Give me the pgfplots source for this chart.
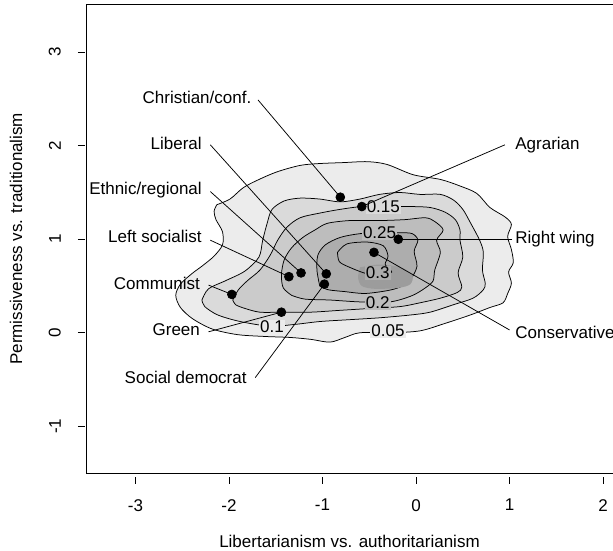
\documentclass[border=0pt]{standalone}
\usepackage{fontspec}
\setmainfont{Liberation Sans}
\usepackage{pgfplots}
\pgfplotsset{compat=1.18}
\definecolor{g1}{gray}{0.925}
\definecolor{g2}{gray}{0.855}
\definecolor{g3}{gray}{0.795}
\definecolor{g4}{gray}{0.74}
\definecolor{g5}{gray}{0.68}
\definecolor{g6}{gray}{0.61}
\begin{document}
\fontsize{17}{20.4}\selectfont
\begin{tikzpicture}
\begin{axis}[name=ax, scale only axis, width=540.4pt, height=468.4pt,
  xmin=-3.53, xmax=2.25, ymin=-1.50, ymax=3.51, clip=false,
  axis line style={line width=0.75pt},
  xtick={-3,-2,-1,0,1,2}, xticklabels={-3,-2,-1,0,1,2},
  ytick={-1,0,1,2,3}, yticklabels={-1,0,1,2,3},
  xtick pos=bottom, ytick pos=left, tick align=outside, major tick length=7pt,
  xtick style={line width=0.75pt, black, yshift=-4pt},
  ytick style={line width=0.75pt, black, xshift=-1pt},
  xticklabel style={anchor=north, inner sep=0pt}, xticklabel shift=19pt,
  yticklabel style={rotate=90, anchor=south, inner sep=0pt}, yticklabel shift=18pt,
  xlabel={Libertarianism vs. authoritarianism},
  xlabel style={at={(axis description cs:0.4876,-0.1452)}, anchor=center},
  ylabel={Permissiveness vs. traditionalism},
  ylabel style={at={(axis description cs:-0.1295,0.5)}, anchor=center},
  every axis plot/.append style={line width=0.75pt},
]
% contour 0.05
\addplot[draw=black, fill=g1, smooth, tension=0.5] coordinates {
(-2.13,1.37)(-1.99,1.43)(-1.85,1.55)(-1.70,1.63)(-1.49,1.72)(-1.24,1.79)(-1.03,1.81)(-0.78,1.82)(-0.52,1.83)(-0.31,1.80)(-0.03,1.69)(0.26,1.64)(0.47,1.57)(0.65,1.49)(0.79,1.34)(0.95,1.24)(1.02,1.16)(0.98,1.03)(1.02,0.89)(1.04,0.75)(0.99,0.65)(1.02,0.53)(0.98,0.42)(0.93,0.32)(0.79,0.27)(0.58,0.19)(0.31,0.10)(0.04,0.02)(-0.28,0.00)(-0.60,0.00)(-0.76,-0.05)(-0.92,-0.10)(-1.13,-0.07)(-1.35,-0.05)(-1.61,-0.04)(-1.91,-0.02)(-2.18,0.04)(-2.39,0.15)(-2.52,0.27)(-2.57,0.40)(-2.52,0.52)(-2.40,0.63)(-2.28,0.72)(-2.16,0.82)(-2.07,0.94)(-2.07,1.08)(-2.14,1.21)(-2.16,1.30)(-2.13,1.37)} -- cycle;
% contour 0.1
\addplot[draw=black, fill=g2, smooth, tension=0.5] coordinates {
(-2.29,0.35)(-2.22,0.47)(-2.03,0.56)(-1.83,0.66)(-1.68,0.81)(-1.64,0.99)(-1.59,1.18)(-1.54,1.32)(-1.41,1.41)(-1.24,1.44)(-1.03,1.43)(-0.81,1.40)(-0.60,1.43)(-0.39,1.48)(-0.17,1.50)(0.04,1.48)(0.26,1.48)(0.40,1.42)(0.50,1.32)(0.58,1.18)(0.68,0.99)(0.72,0.86)(0.71,0.67)(0.74,0.53)(0.72,0.46)(0.61,0.37)(0.40,0.30)(0.15,0.22)(-0.06,0.19)(-0.39,0.16)(-0.71,0.14)(-1.03,0.12)(-1.29,0.09)(-1.56,0.07)(-1.88,0.12)(-2.12,0.19)(-2.26,0.28)(-2.29,0.35)} -- cycle;
% contour 0.15
\addplot[draw=black, fill=g3, smooth, tension=0.5] coordinates {
(-1.96,0.35)(-1.90,0.46)(-1.80,0.56)(-1.67,0.67)(-1.56,0.83)(-1.48,0.99)(-1.38,1.13)(-1.24,1.23)(-1.03,1.28)(-0.81,1.32)(-0.58,1.35)(-0.34,1.35)(-0.06,1.35)(0.15,1.34)(0.31,1.29)(0.42,1.21)(0.47,1.10)(0.47,0.99)(0.50,0.81)(0.45,0.64)(0.49,0.49)(0.44,0.43)(0.26,0.37)(0.04,0.32)(-0.17,0.28)(-0.49,0.26)(-0.81,0.24)(-1.13,0.22)(-1.44,0.22)(-1.67,0.22)(-1.83,0.26)(-1.93,0.30)(-1.96,0.35)} -- cycle;
% contour 0.2
\addplot[draw=black, fill=g4, smooth, tension=0.5] coordinates {
(-1.33,0.40)(-1.42,0.48)(-1.44,0.62)(-1.41,0.78)(-1.33,0.91)(-1.21,1.02)(-1.08,1.10)(-0.95,1.17)(-0.71,1.20)(-0.39,1.20)(-0.12,1.21)(0.10,1.23)(0.20,1.19)(0.29,1.10)(0.22,0.99)(0.26,0.86)(0.20,0.67)(0.18,0.55)(0.07,0.46)(-0.06,0.39)(-0.28,0.33)(-0.60,0.33)(-0.92,0.35)(-1.19,0.36)(-1.33,0.40)} -- cycle;
% contour 0.25
\addplot[draw=black, fill=g5, smooth, tension=0.5] coordinates {
(-1.03,0.50)(-1.06,0.67)(-1.05,0.83)(-0.97,0.94)(-0.81,1.02)(-0.60,1.06)(-0.39,1.07)(-0.17,1.07)(-0.04,1.06)(0.02,0.99)(-0.02,0.87)(0.01,0.71)(-0.06,0.57)(-0.17,0.49)(-0.31,0.45)(-0.55,0.42)(-0.76,0.44)(-0.94,0.46)(-1.03,0.50)} -- cycle;
% darkest raster area
\addplot[draw=none, fill=g6, smooth, tension=0.5] coordinates {
(-0.60,0.70)(-0.39,0.73)(-0.17,0.70)(-0.04,0.62)(-0.06,0.52)(-0.19,0.48)(-0.44,0.47)(-0.58,0.50)(-0.62,0.59)(-0.60,0.70)} -- cycle;
% contour 0.3
\addplot[draw=black, smooth, tension=0.5] coordinates {
(-0.84,0.86)(-0.74,0.95)(-0.52,0.97)(-0.35,0.93)(-0.30,0.82)(-0.33,0.73)(-0.26,0.65)(-0.35,0.63)(-0.52,0.63)(-0.71,0.70)(-0.82,0.76)(-0.84,0.86)} -- cycle;
% contour labels
\node[fill=g2, inner sep=1pt] at (axis cs:-0.35,1.35) {0.15};
\node[fill=g4, inner sep=1pt] at (axis cs:-0.39,1.07) {0.25};
\node[fill=g5, inner sep=1pt] at (axis cs:-0.41,0.64) {0.3};
\node[fill=g4, inner sep=1pt] at (axis cs:-0.41,0.32) {0.2};
\node[fill=g1, inner sep=1pt] at (axis cs:-1.54,0.06) {0.1};
\node[fill=g1, inner sep=1pt] at (axis cs:-0.30,0.02) {0.05};
% leader lines
\addplot[black] coordinates {(-1.69,2.49)(-0.81,1.45)};
\addplot[black] coordinates {(-2.20,2.01)(-0.96,0.63)};
\addplot[black] coordinates {(-2.20,1.51)(-1.23,0.64)};
\addplot[black] coordinates {(-2.20,0.99)(-1.36,0.60)};
\addplot[black] coordinates {(-2.22,0.51)(-1.97,0.41)};
\addplot[black] coordinates {(-2.22,0.01)(-1.44,0.22)};
\addplot[black] coordinates {(-1.72,-0.48)(-0.98,0.52)};
\addplot[black] coordinates {(0.95,2.01)(-0.58,1.35)};
\addplot[black] coordinates {(1.03,1.00)(-0.19,1.00)};
\addplot[black] coordinates {(1.00,0.03)(-0.45,0.86)};
% party positions
\addplot[only marks, mark=*, mark size=4.4pt, black] coordinates {
(-0.81,1.45)(-0.96,0.63)(-1.23,0.64)(-1.36,0.60)(-1.97,0.41)(-1.44,0.22)(-0.98,0.52)(-0.58,1.35)(-0.19,1.00)(-0.45,0.86)};
% party labels
\node[anchor=east, inner sep=0pt] at (axis cs:-1.76,2.52) {Christian/conf.};
\node[anchor=east, inner sep=0pt] at (axis cs:-2.29,2.03) {Liberal};
\node[anchor=east, inner sep=0pt] at (axis cs:-2.29,1.53) {Ethnic/regional};
\node[anchor=east, inner sep=0pt] at (axis cs:-2.29,1.03) {Left socialist};
\node[anchor=east, inner sep=0pt] at (axis cs:-2.31,0.53) {Communist};
\node[anchor=east, inner sep=0pt] at (axis cs:-2.31,0.03) {Green};
\node[anchor=east, inner sep=0pt] at (axis cs:-1.81,-0.48) {Social democrat};
\node[anchor=west, inner sep=0pt] at (axis cs:1.06,2.01) {Agrarian};
\node[anchor=west, inner sep=0pt] at (axis cs:1.06,1.00) {Right wing};
\node[anchor=west, inner sep=0pt] at (axis cs:1.06,0.00) {Conservative};
\end{axis}
\pgfresetboundingbox
\path[use as bounding box] (ax.south west) ++(-86pt,-78pt) rectangle ++(613pt,551pt);
\end{tikzpicture}
\end{document}
